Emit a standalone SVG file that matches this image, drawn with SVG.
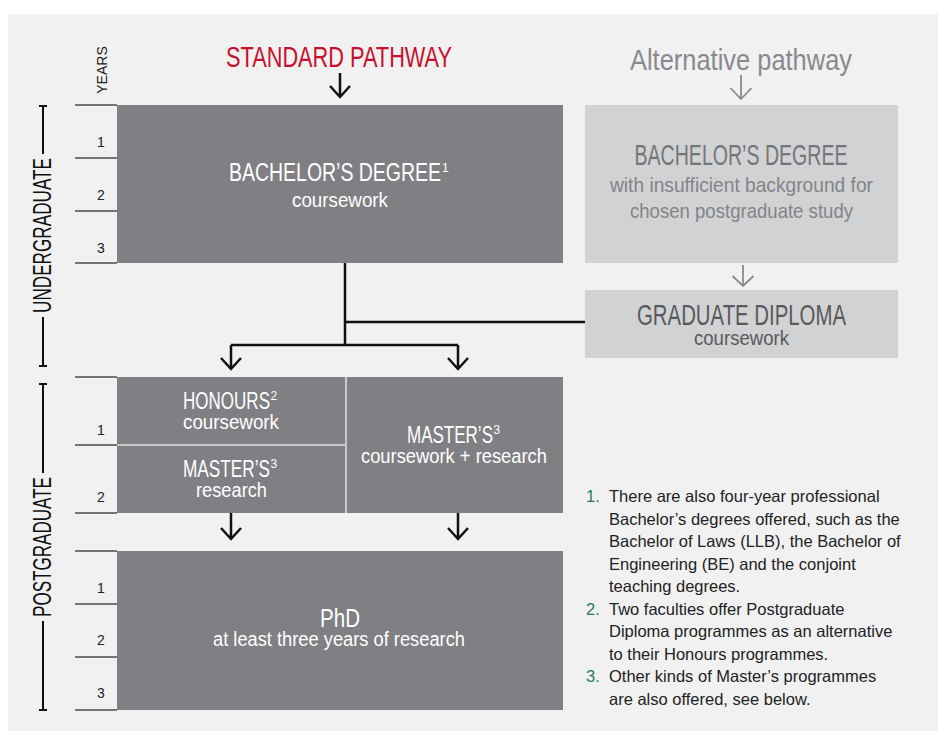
<svg xmlns="http://www.w3.org/2000/svg" width="938" height="731" viewBox="0 0 938 731">
<style>
.h{font-family:"Liberation Sans Narrow","Liberation Sans",Arial,sans-serif;text-anchor:middle}
.hs{font-family:"Liberation Sans Narrow","Liberation Sans",Arial,sans-serif}
.w{fill:#ffffff}
.num{font-family:"Liberation Sans",Arial,sans-serif;font-size:14px;fill:#222;text-anchor:middle}
.note{font-family:"Liberation Sans",Arial,sans-serif;font-size:16.5px;fill:#222}
.nn{fill:#2a7a5e}
.dark{fill:#808084}
.light{fill:#d1d2d4}
.tick{stroke:#4a4a4a;stroke-width:1.5}
.con{fill:none;stroke:#111;stroke-width:2.5}
.alt{fill:none;stroke:#8a8a8d;stroke-width:1.8}
.br{fill:none;stroke:#111;stroke-width:2}
</style>
<rect x="8" y="14" width="930" height="717" fill="#f1f1f1"/>

<g id="scale">
<text class="num" transform="translate(107,70) rotate(-90)">YEARS</text>
<g class="tick">
<line x1="75" y1="105" x2="117" y2="105"/><line x1="75" y1="158" x2="117" y2="158"/><line x1="75" y1="211" x2="117" y2="211"/><line x1="75" y1="263" x2="117" y2="263"/>
<line x1="75" y1="377" x2="117" y2="377"/><line x1="75" y1="445" x2="117" y2="445"/><line x1="75" y1="513" x2="117" y2="513"/>
<line x1="75" y1="551" x2="117" y2="551"/><line x1="75" y1="604" x2="117" y2="604"/><line x1="75" y1="657" x2="117" y2="657"/><line x1="75" y1="710" x2="117" y2="710"/>
</g>
<text class="num" x="101" y="147">1</text><text class="num" x="101" y="200">2</text><text class="num" x="101" y="253">3</text>
<text class="num" x="101" y="435">1</text><text class="num" x="101" y="502">2</text>
<text class="num" x="101" y="593">1</text><text class="num" x="101" y="645">2</text><text class="num" x="101" y="698">3</text>
</g>

<g id="undergraduate-bracket">
<path class="br" d="M39 106H47M43 106V154M43 317V366M39 366H47"/>
<text class="h" font-size="25" fill="#111" textLength="155" lengthAdjust="spacingAndGlyphs" transform="translate(51,235.5) rotate(-90)">UNDERGRADUATE</text>
</g>
<g id="postgraduate-bracket">
<path class="br" d="M39 384H47M43 384V473M43 621V710M39 710H47"/>
<text class="h" font-size="25" fill="#111" textLength="140" lengthAdjust="spacingAndGlyphs" transform="translate(51,547) rotate(-90)">POSTGRADUATE</text>
</g>

<g id="standard-title">
<text class="h" x="339" y="67" font-size="29" fill="#c8102e" textLength="226" lengthAdjust="spacingAndGlyphs">STANDARD PATHWAY</text>
</g>
<g id="alt-title">
<text class="h" x="741" y="70" font-size="30" fill="#88898c" textLength="222" lengthAdjust="spacingAndGlyphs">Alternative pathway</text>
</g>

<g id="connectors">
<path class="con" d="M340 73V97M330 86L340 97L350 86"/>
<path class="con" d="M345 263V345M345 322H585M231 345H458M231 345V369M458 345V369M221 358L231 369L241 358M448 358L458 369L468 358"/>
<path class="con" d="M231 513V539M221 528L231 539L241 528M458 513V539M448 528L458 539L468 528"/>
<path class="alt" d="M741 75V99M730.5 88L741 99L751.5 88"/>
<path class="alt" d="M743 265V286M732.5 276L743 286L753.5 276"/>
</g>

<g id="bachelor">
<rect class="dark" x="117" y="105" width="446" height="158"/>
<text class="h w" x="335" y="181" font-size="26" textLength="212" lengthAdjust="spacingAndGlyphs">BACHELOR’S DEGREE</text>
<text class="hs w" x="442" y="172" font-size="12">1</text>
<text class="h w" x="340" y="207" font-size="20" textLength="96" lengthAdjust="spacingAndGlyphs">coursework</text>
</g>

<g id="alt-bachelor">
<rect class="light" x="585" y="105" width="313" height="158"/>
<text class="h" x="741" y="165" font-size="29" fill="#747578" textLength="213" lengthAdjust="spacingAndGlyphs">BACHELOR’S DEGREE</text>
<text class="h" x="741.5" y="192" font-size="21" fill="#838487" textLength="263" lengthAdjust="spacingAndGlyphs">with insufficient background for</text>
<text class="h" x="741.5" y="218" font-size="21" fill="#838487" textLength="223" lengthAdjust="spacingAndGlyphs">chosen postgraduate study</text>
</g>

<g id="graduate-diploma">
<rect class="light" x="585" y="290" width="313" height="68"/>
<text class="h" x="741.5" y="325" font-size="29" fill="#59595c" textLength="209" lengthAdjust="spacingAndGlyphs">GRADUATE DIPLOMA</text>
<text class="h" x="741.5" y="345" font-size="20" fill="#59595c" textLength="95" lengthAdjust="spacingAndGlyphs">coursework</text>
</g>

<rect x="117" y="377" width="446" height="136" fill="#c8c8ca"/>
<g id="honours">
<rect class="dark" x="117" y="377" width="228" height="67"/>
<text class="h w" x="226.5" y="409" font-size="24" textLength="87" lengthAdjust="spacingAndGlyphs">HONOURS</text>
<text class="hs w" x="270.5" y="400" font-size="12">2</text>
<text class="h w" x="231" y="429" font-size="20" textLength="96" lengthAdjust="spacingAndGlyphs">coursework</text>
</g>
<g id="masters-research">
<rect class="dark" x="117" y="446" width="228" height="67"/>
<text class="h w" x="226.5" y="477" font-size="24" textLength="87" lengthAdjust="spacingAndGlyphs">MASTER’S</text>
<text class="hs w" x="270.5" y="468" font-size="12">3</text>
<text class="h w" x="231.5" y="497" font-size="20" textLength="71" lengthAdjust="spacingAndGlyphs">research</text>
</g>
<g id="masters-coursework">
<rect class="dark" x="347" y="377" width="216" height="136"/>
<text class="h w" x="450" y="443" font-size="24" textLength="86" lengthAdjust="spacingAndGlyphs">MASTER’S</text>
<text class="hs w" x="493.5" y="434" font-size="12">3</text>
<text class="h w" x="454" y="463" font-size="20" textLength="186" lengthAdjust="spacingAndGlyphs">coursework + research</text>
</g>

<g id="phd">
<rect class="dark" x="117" y="551" width="446" height="159"/>
<text class="h w" x="340" y="627" font-size="25" textLength="40" lengthAdjust="spacingAndGlyphs">PhD</text>
<text class="h w" x="339" y="646" font-size="20" textLength="252" lengthAdjust="spacingAndGlyphs">at least three years of research</text>
</g>

<g id="notes">
<text class="note nn" x="586" y="502">1.</text>
<text class="note" x="609" y="502">There are also four-year professional</text>
<text class="note" x="609" y="524.5">Bachelor’s degrees offered, such as the</text>
<text class="note" x="609" y="547">Bachelor of Laws (LLB), the Bachelor of</text>
<text class="note" x="609" y="569.5">Engineering (BE) and the conjoint</text>
<text class="note" x="609" y="592">teaching degrees.</text>
<text class="note nn" x="586" y="614.5">2.</text>
<text class="note" x="609" y="614.5">Two faculties offer Postgraduate</text>
<text class="note" x="609" y="637">Diploma programmes as an alternative</text>
<text class="note" x="609" y="659.5">to their Honours programmes.</text>
<text class="note nn" x="586" y="682">3.</text>
<text class="note" x="609" y="682">Other kinds of Master’s programmes</text>
<text class="note" x="609" y="704.5">are also offered, see below.</text>
</g>
</svg>
